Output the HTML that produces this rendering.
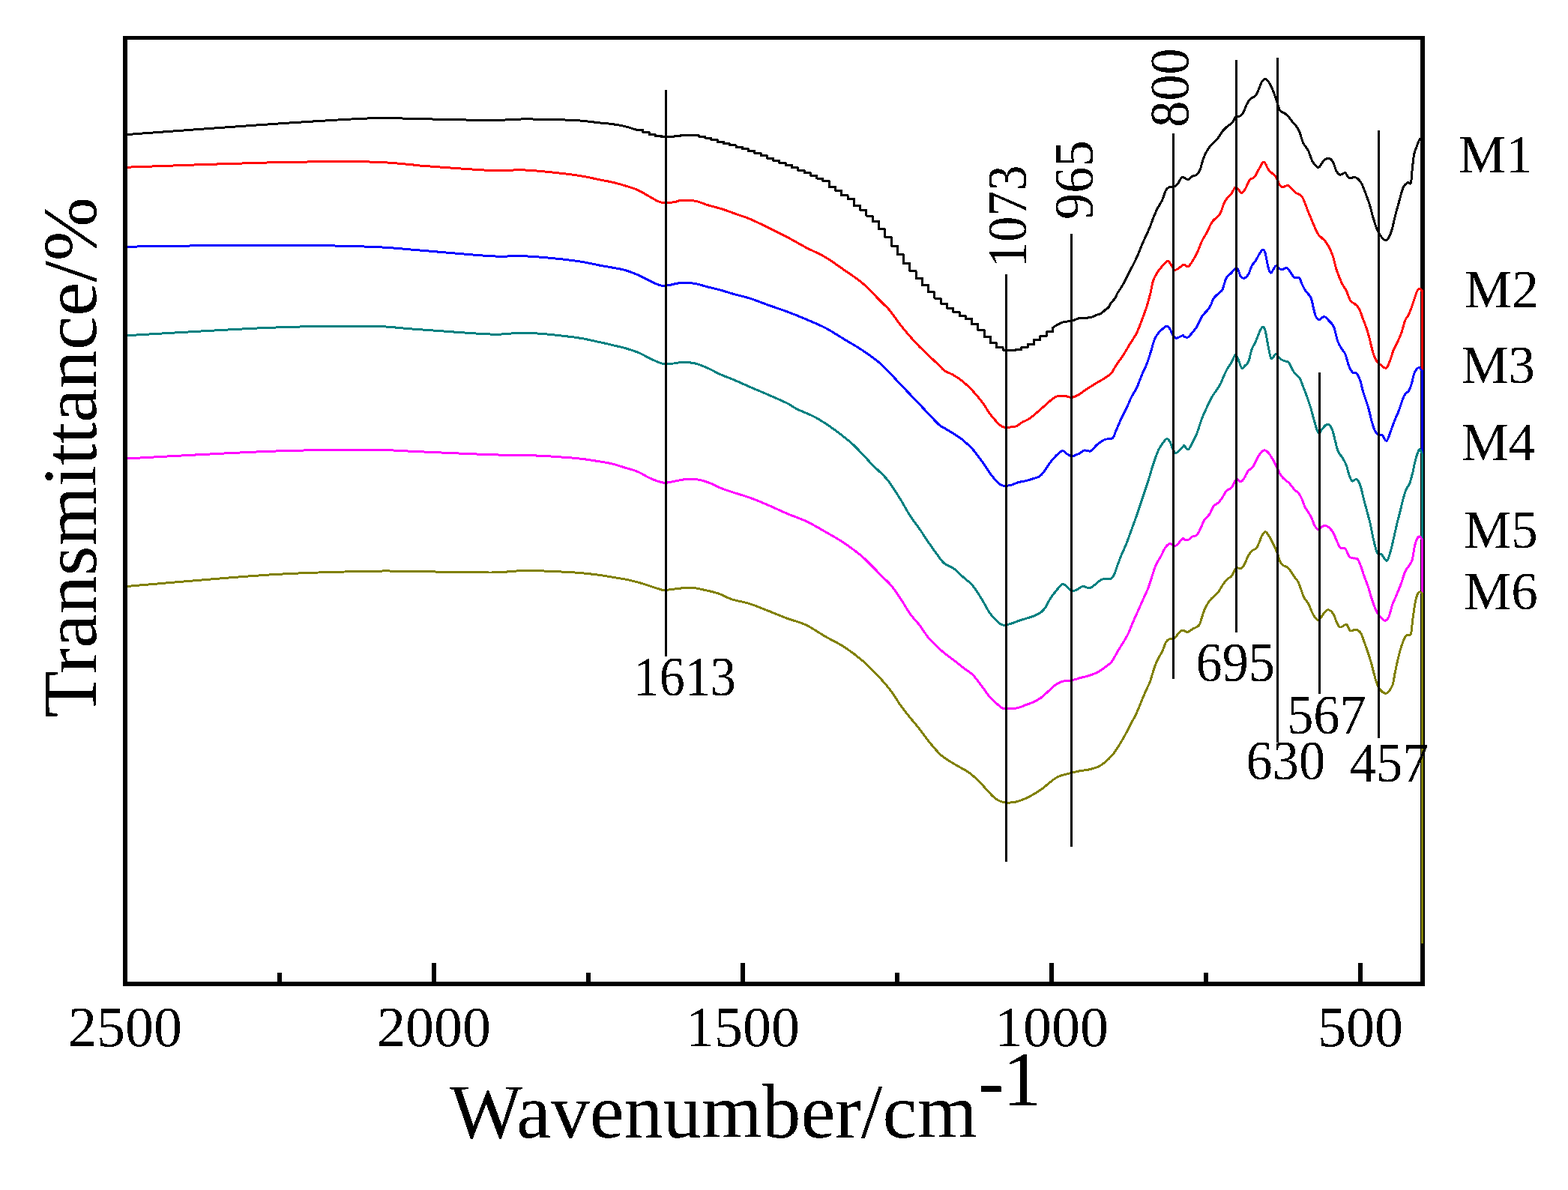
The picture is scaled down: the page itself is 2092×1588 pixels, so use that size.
<!DOCTYPE html>
<html><head><meta charset="utf-8"><title>FTIR spectra</title>
<style>html,body{margin:0;padding:0;background:#fff;}body{width:2092px;height:1588px;overflow:hidden;}svg{display:block;}</style>
</head><body>
<svg width="2092" height="1588" viewBox="0 0 2092 1588" font-family="'Liberation Serif','Times New Roman',serif" fill="#000">
<defs><filter id="bin" x="0" y="0" width="2092" height="1588" filterUnits="userSpaceOnUse" color-interpolation-filters="sRGB"><feComponentTransfer><feFuncA type="discrete" tableValues="0 1"/></feComponentTransfer></filter></defs>
<rect x="0" y="0" width="2092" height="1588" fill="#fff"/>
<g fill="#000" shape-rendering="crispEdges"><rect x="164" y="48" width="6" height="1268"/><rect x="164" y="48" width="1737" height="5"/><rect x="1895" y="48" width="6" height="1268"/><rect x="164" y="1310" width="1737" height="6"/></g>
<g fill="#000" shape-rendering="crispEdges"><rect x="576" y="1285" width="6" height="26"/><rect x="988" y="1285" width="6" height="26"/><rect x="1400" y="1285" width="6" height="26"/><rect x="1812" y="1285" width="6" height="26"/><rect x="370" y="1297.5" width="6" height="13"/><rect x="782" y="1297.5" width="6" height="13"/><rect x="1194" y="1297.5" width="6" height="13"/><rect x="1606" y="1297.5" width="6" height="13"/></g>
<path d="M170.0 179.5C201.6 177.2 305.8 169.4 359.6 165.8C413.4 162.2 459.2 159.1 492.6 157.9C526.0 156.7 532.8 158.3 560.0 158.7C587.2 159.1 632.3 160.5 655.8 160.5C679.3 160.5 682.7 158.9 701.2 158.9C719.7 158.9 750.2 159.7 766.7 160.5C783.2 161.3 791.6 163.1 800.0 163.9C808.4 164.8 811.3 164.8 817.0 165.6C822.7 166.4 828.6 167.4 834.0 168.7C839.4 170.0 846.9 172.6 849.5 173.4H857.8V176.4H866.1V179.6H874.3V181.4H882.6V182.8H890.9V182.7H899.2V181.9H907.5V180.9H915.7V180.7H924.0V180.9H932.3V182.1H940.6V184.0H948.9V186.4H957.1V189.3H965.4V191.8H973.7V193.9H982.0V196.2H990.3V198.8H998.5V201.4H1006.8V204.6H1015.1V207.9H1023.4V211.3H1031.7V214.4H1039.9V217.5H1048.2V220.6H1056.5V223.9H1064.8V227.2H1073.1V230.5H1081.3V234.2H1089.6V238.0H1097.9V241.7H1106.2V249.4H1114.5V254.1H1122.7V260.7H1131.0V265.3H1139.3V274.4H1147.6V280.2H1155.9V288.0H1164.1V295.6H1172.4V305.9H1180.7V316.2H1189.0V328.1H1197.3V339.7H1205.5V351.5H1213.8V361.8H1222.1V371.5H1230.4V380.5H1238.7V389.9H1246.9V398.1H1255.2V405.2H1263.5V411.2H1271.8V416.5H1280.1V421.6H1288.3V425.7H1296.6V432.4H1304.9V440.6H1313.2V449.4H1321.5V457.9H1329.7V463.8H1338.0V467.1H1346.3V467.4H1354.6V466.8H1362.9V463.5H1371.1V459.7H1379.4V453.7H1387.7V448.6H1396.0V442.9H1404.3V437.5C1405.3 436.8 1408.0 434.9 1410.5 433.6C1413.0 432.3 1415.7 430.6 1419.1 429.7C1422.5 428.8 1427.6 428.9 1431.1 428.0C1434.6 427.1 1436.8 425.1 1440.0 424.5C1443.2 423.9 1447.1 424.5 1450.2 424.2C1453.3 423.9 1456.7 423.1 1458.7 422.5C1460.7 421.9 1460.4 421.2 1462.1 420.5C1463.8 419.8 1466.9 419.6 1468.9 418.5C1470.9 417.4 1472.3 415.4 1474.0 414.0C1475.7 412.6 1477.7 411.7 1479.1 410.0C1480.5 408.3 1481.1 406.0 1482.5 404.0C1483.9 402.0 1486.2 400.2 1487.6 398.0C1489.0 395.8 1489.9 393.0 1491.0 391.0C1492.1 389.0 1493.0 388.2 1494.4 386.0C1495.8 383.8 1497.2 381.7 1499.5 377.5C1501.8 373.3 1505.2 366.4 1508.0 360.8C1510.8 355.2 1513.7 350.0 1516.5 343.8C1519.3 337.6 1522.2 329.9 1525.0 323.4C1527.8 316.9 1531.2 310.1 1533.5 304.7C1535.8 299.3 1536.9 295.4 1538.6 291.1C1540.3 286.9 1541.7 283.2 1543.7 279.2C1545.7 275.2 1548.5 271.6 1550.5 267.3C1552.5 263.1 1553.9 256.7 1555.6 253.7C1557.3 250.7 1559.0 250.1 1560.7 249.4C1562.4 248.7 1564.1 250.0 1565.8 249.4C1567.5 248.8 1569.2 248.0 1570.9 246.0C1572.6 244.0 1574.5 239.0 1576.0 237.5C1577.5 236.0 1578.5 236.8 1580.0 237.2C1581.5 237.6 1583.4 240.1 1585.1 239.8C1586.8 239.5 1588.2 236.6 1590.2 235.5C1592.2 234.4 1595.2 234.6 1597.0 233.0C1598.8 231.4 1599.9 229.3 1601.2 226.2C1602.5 223.1 1603.5 217.7 1604.6 214.3C1605.7 210.9 1606.4 208.9 1608.0 205.8C1609.6 202.7 1611.3 199.0 1614.0 195.6C1616.7 192.2 1621.4 188.8 1624.2 185.4C1627.0 182.0 1628.7 178.0 1631.0 175.2C1633.3 172.4 1635.5 170.4 1637.8 168.4C1640.1 166.4 1642.8 165.4 1644.6 163.3C1646.4 161.2 1647.1 157.0 1648.8 155.6C1650.5 154.2 1653.1 155.8 1654.8 154.8C1656.5 153.8 1657.6 152.2 1659.0 149.7C1660.4 147.1 1661.7 142.5 1663.3 139.5C1664.9 136.5 1666.4 133.8 1668.4 131.8C1670.4 129.8 1673.4 129.7 1675.2 127.6C1677.0 125.5 1678.0 122.2 1679.4 119.1C1680.8 116.0 1682.1 111.2 1683.7 108.9C1685.3 106.6 1687.1 105.1 1688.8 105.5C1690.5 105.9 1692.2 108.6 1693.9 111.4C1695.6 114.2 1697.5 118.7 1699.0 122.5C1700.5 126.3 1701.8 130.3 1703.2 134.4C1704.6 138.5 1705.7 144.3 1707.5 147.1C1709.3 149.9 1712.2 149.8 1714.3 151.4C1716.4 153.0 1718.3 154.9 1720.0 156.8C1721.7 158.7 1723.1 161.3 1724.5 163.0C1725.9 164.7 1727.0 164.9 1728.5 167.0C1730.0 169.1 1731.9 171.5 1733.6 175.5C1735.3 179.5 1736.7 186.6 1738.7 190.8C1740.7 195.1 1743.5 197.0 1745.5 201.0C1747.5 205.0 1748.9 211.2 1750.6 214.6C1752.3 218.0 1754.1 220.0 1755.7 221.4C1757.3 222.8 1758.3 224.2 1760.0 223.1C1761.7 222.0 1763.8 216.6 1765.9 214.6C1768.0 212.6 1770.6 210.9 1772.7 211.2C1774.8 211.5 1776.9 213.5 1778.6 216.3C1780.3 219.1 1781.3 225.4 1782.9 228.2C1784.5 231.0 1786.0 232.9 1788.0 233.3C1790.0 233.7 1792.8 230.0 1794.8 230.7C1796.8 231.4 1797.6 236.5 1799.9 237.5C1802.2 238.5 1805.9 235.8 1808.4 236.7C1811.0 237.5 1813.2 239.8 1815.2 242.6C1817.2 245.4 1818.3 248.7 1820.3 253.7C1822.3 258.7 1825.1 266.2 1827.1 272.4C1829.1 278.6 1830.2 284.9 1832.2 291.1C1834.2 297.3 1836.2 304.9 1839.0 309.8C1841.8 314.8 1846.4 320.8 1849.2 320.8C1852.0 320.8 1854.0 315.0 1856.0 309.8C1858.0 304.6 1859.4 295.9 1861.1 289.4C1862.8 282.9 1864.4 277.2 1866.2 270.7C1868.0 264.2 1870.1 254.8 1872.1 250.3C1874.1 245.8 1876.4 244.5 1878.1 243.5C1879.8 242.5 1881.3 246.9 1882.3 244.3C1883.3 241.8 1883.3 234.6 1884.0 228.2C1884.7 221.8 1885.6 211.5 1886.6 206.1C1887.6 200.7 1888.7 199.3 1890.0 195.9C1891.3 192.5 1893.0 187.3 1894.2 185.7C1895.5 184.1 1897.0 186.4 1897.5 186.5L1897.5 1258.5" fill="none" stroke="#000000" stroke-width="3" stroke-linejoin="round" shape-rendering="crispEdges"/>
<path d="M170.0 223.2C201.6 222.1 305.8 218.1 359.6 216.9C413.4 215.7 460.9 215.5 492.6 216.0C524.3 216.5 538.8 219.1 550.0 219.9C560.0 220.7 550.0 219.7 560.0 221.0C577.6 222.3 632.3 226.5 655.8 227.5C679.3 228.5 682.7 226.0 701.2 227.0C719.7 228.0 750.2 231.4 766.7 233.5C783.2 235.6 791.6 238.2 800.0 239.8C808.4 241.4 811.3 241.9 817.0 243.2C822.7 244.5 828.3 246.1 834.0 247.8C839.7 249.6 845.3 251.1 851.0 253.7C856.7 256.2 862.9 260.4 868.0 263.1C873.1 265.8 876.5 268.8 881.6 269.9C886.7 271.0 894.1 270.3 898.6 269.9C903.1 269.5 904.0 267.6 908.8 267.3C913.6 267.0 921.6 267.1 927.6 268.2C933.6 269.3 938.9 272.1 944.6 273.8C950.3 275.5 955.9 276.6 961.6 278.4C967.3 280.2 972.2 282.1 978.6 284.4C985.0 286.7 992.2 288.8 1000.0 292.0C1007.8 295.2 1016.8 299.8 1025.2 303.9C1033.6 308.0 1042.0 312.1 1050.4 316.5C1058.8 320.9 1067.2 326.0 1075.6 330.4C1084.0 334.8 1092.4 338.1 1100.8 343.0C1109.2 347.9 1117.6 354.2 1126.0 360.1C1134.4 366.0 1142.7 371.0 1151.1 378.2C1159.5 385.4 1170.4 397.5 1176.3 403.4C1182.2 409.3 1182.2 408.4 1186.4 413.5C1190.6 418.6 1196.9 427.8 1201.5 433.7C1206.1 439.6 1209.9 444.0 1214.1 448.8C1218.3 453.6 1220.4 456.3 1226.7 462.6C1233.0 468.9 1246.4 481.3 1251.9 486.6C1257.5 491.9 1256.5 492.1 1260.0 494.5C1263.5 496.9 1268.4 498.3 1272.6 500.8C1276.8 503.3 1281.0 506.1 1285.2 509.6C1289.4 513.1 1293.6 517.1 1297.8 521.6C1302.0 526.1 1306.6 531.7 1310.4 536.7C1314.2 541.7 1317.2 547.3 1320.5 551.8C1323.8 556.3 1327.6 560.8 1330.5 563.8C1333.4 566.8 1335.1 568.7 1338.1 569.7C1341.0 570.7 1345.3 570.1 1348.2 570.0C1351.1 569.9 1353.2 569.8 1355.7 568.8C1358.2 567.8 1360.3 565.5 1363.3 563.8C1366.2 562.1 1370.1 560.9 1373.4 558.7C1376.8 556.5 1380.1 553.3 1383.4 550.5C1386.8 547.7 1390.1 544.6 1393.5 541.7C1396.9 538.8 1400.6 535.1 1403.6 532.9C1406.5 530.7 1408.3 529.2 1411.2 528.5C1414.1 527.8 1418.1 528.2 1421.2 528.5C1424.3 528.8 1426.9 530.8 1430.0 530.4C1433.1 530.0 1436.9 527.9 1440.0 526.2C1443.1 524.5 1445.1 522.5 1448.5 520.2C1451.9 517.9 1456.7 514.9 1460.4 512.6C1464.1 510.3 1466.9 509.0 1470.6 506.6C1474.3 504.2 1479.4 501.4 1482.5 498.1C1485.6 494.9 1486.8 490.9 1489.3 487.1C1491.8 483.3 1494.7 480.0 1497.8 475.2C1500.9 470.4 1504.9 463.3 1508.0 458.2C1511.1 453.1 1514.0 449.7 1516.5 444.6C1519.0 439.5 1521.0 433.6 1523.3 427.6C1525.6 421.6 1528.1 414.8 1530.1 408.5C1532.1 402.2 1533.8 395.7 1535.2 390.0C1536.6 384.3 1537.2 378.7 1538.6 374.4C1540.0 370.1 1542.0 367.0 1543.7 364.2C1545.4 361.4 1547.1 359.5 1548.8 357.4C1550.5 355.3 1552.4 353.0 1553.9 351.4C1555.5 349.8 1556.7 347.7 1558.1 348.0C1559.5 348.3 1561.0 351.1 1562.4 353.1C1563.8 355.1 1565.2 358.9 1566.6 359.9C1568.0 360.9 1569.1 360.1 1570.9 359.1C1572.8 358.1 1576.2 355.0 1577.7 354.0C1579.2 353.0 1578.8 352.8 1580.0 353.1C1581.2 353.4 1583.4 356.3 1585.1 355.7C1586.8 355.1 1588.2 352.7 1590.2 349.7C1592.2 346.7 1594.7 342.2 1597.0 337.5C1599.3 332.8 1601.5 326.1 1603.8 321.4C1606.1 316.7 1608.3 313.8 1610.6 309.5C1612.9 305.2 1614.6 299.9 1617.4 295.9C1620.2 291.9 1625.0 289.7 1627.6 285.7C1630.1 281.7 1631.0 275.8 1632.7 272.1C1634.4 268.4 1636.1 265.9 1637.8 263.6C1639.5 261.3 1641.2 260.8 1642.9 258.5C1644.6 256.2 1646.6 251.1 1648.0 250.0C1649.4 248.9 1650.0 250.4 1651.4 251.7C1652.8 253.0 1654.8 257.6 1656.5 257.6C1658.2 257.6 1659.8 254.7 1661.6 251.7C1663.4 248.7 1665.5 242.4 1667.5 239.8C1669.5 237.2 1671.4 239.0 1673.5 236.4C1675.6 233.8 1678.2 227.9 1680.3 224.5C1682.4 221.1 1684.2 215.7 1686.2 216.0C1688.2 216.3 1690.4 223.6 1692.2 226.2C1694.0 228.8 1695.6 229.6 1697.3 231.3C1699.0 233.0 1700.4 233.4 1702.4 236.4C1704.4 239.4 1706.7 247.3 1709.2 249.1C1711.8 250.9 1715.9 247.5 1717.7 247.4C1719.5 247.3 1718.2 247.0 1720.0 248.6C1721.8 250.2 1725.7 254.8 1728.5 257.1C1731.3 259.4 1734.2 257.9 1737.0 262.2C1739.8 266.4 1742.7 275.8 1745.5 282.6C1748.3 289.4 1751.7 297.9 1754.0 303.0C1756.3 308.1 1756.5 309.8 1759.1 313.2C1761.6 316.6 1766.2 318.9 1769.3 323.4C1772.4 327.9 1775.5 334.4 1777.8 340.4C1780.1 346.3 1781.2 353.7 1782.9 359.1C1784.6 364.5 1786.6 369.2 1788.0 372.7C1789.4 376.2 1790.0 377.4 1791.4 380.0C1792.8 382.6 1794.8 385.0 1796.5 388.5C1798.2 392.0 1799.6 398.0 1801.6 401.0C1803.6 404.0 1806.4 404.4 1808.4 406.3C1810.4 408.2 1811.8 409.0 1813.5 412.3C1815.2 415.6 1816.9 421.4 1818.6 425.9C1820.3 430.4 1822.3 435.2 1823.7 439.5C1825.1 443.8 1825.7 446.0 1827.1 451.4C1828.5 456.8 1830.5 466.6 1832.2 471.8C1833.9 477.0 1835.6 480.2 1837.3 482.8C1839.0 485.4 1840.4 485.7 1842.4 487.1C1844.4 488.5 1847.2 492.2 1849.2 491.3C1851.2 490.4 1852.6 486.1 1854.3 482.0C1856.0 477.9 1857.7 470.9 1859.4 466.7C1861.1 462.4 1862.8 460.2 1864.5 456.5C1866.2 452.8 1867.9 449.4 1869.6 444.6C1871.3 439.8 1873.0 431.9 1874.7 427.6C1876.4 423.4 1878.1 422.8 1879.8 419.1C1881.5 415.4 1883.2 410.3 1884.9 405.5C1886.6 400.7 1888.6 393.6 1890.0 390.2C1891.4 386.8 1892.2 385.4 1893.4 385.1C1894.7 384.8 1896.8 387.9 1897.5 388.5L1897.5 1258.5" fill="none" stroke="#ff0000" stroke-width="3" stroke-linejoin="round" shape-rendering="crispEdges"/>
<path d="M170.0 329.2C201.6 328.8 305.8 327.0 359.6 327.0C413.4 327.0 460.9 328.2 492.6 329.2C524.3 330.2 538.8 332.4 550.0 333.2C560.0 334.0 550.0 332.6 560.0 334.0C577.6 335.4 632.3 340.5 655.8 341.8C679.3 343.1 682.7 340.8 701.2 341.8C719.7 342.8 750.2 345.8 766.7 347.9C783.2 349.9 791.6 352.6 800.0 354.1C808.4 355.6 811.3 356.0 817.0 357.1C822.7 358.2 828.3 358.9 834.0 360.5C839.7 362.1 845.3 364.3 851.0 366.8C856.7 369.3 862.9 372.9 868.0 375.3C873.1 377.7 877.4 380.1 881.6 381.0C885.9 381.9 889.5 380.9 893.5 380.4C897.5 379.9 900.0 378.3 905.4 377.9C910.8 377.5 919.4 377.3 925.9 378.2C932.4 379.1 938.6 381.5 944.6 383.0C950.6 384.5 955.9 385.6 961.6 387.2C967.3 388.8 972.2 390.5 978.6 392.3C985.0 394.1 992.2 395.5 1000.0 398.0C1007.8 400.5 1016.8 404.2 1025.2 407.2C1033.6 410.2 1042.0 412.9 1050.4 416.0C1058.8 419.1 1067.2 422.5 1075.6 426.1C1084.0 429.7 1092.4 433.0 1100.8 437.4C1109.2 441.8 1117.6 447.4 1126.0 452.5C1134.4 457.6 1142.7 462.0 1151.1 467.7C1159.5 473.4 1167.9 479.1 1176.3 486.6C1184.7 494.2 1193.1 504.2 1201.5 513.0C1209.9 521.8 1218.3 530.6 1226.7 539.4C1235.1 548.2 1246.4 560.6 1251.9 565.9C1257.5 571.2 1256.5 569.1 1260.0 571.3C1263.5 573.5 1268.4 576.2 1272.6 578.9C1276.8 581.6 1281.0 584.2 1285.2 587.7C1289.4 591.2 1293.6 594.9 1297.8 599.6C1302.0 604.3 1306.6 610.8 1310.4 616.0C1314.2 621.2 1317.2 626.6 1320.5 631.1C1323.8 635.6 1327.6 640.3 1330.5 643.1C1333.4 645.9 1335.1 647.4 1338.1 648.1C1341.0 648.8 1344.8 648.2 1348.2 647.5C1351.6 646.8 1354.9 644.7 1358.2 643.7C1361.5 642.8 1364.9 642.6 1368.3 641.8C1371.7 641.0 1375.2 639.8 1378.4 638.7C1381.6 637.7 1384.7 637.2 1387.2 635.5C1389.7 633.8 1391.2 631.6 1393.5 628.6C1395.8 625.6 1398.6 620.6 1401.1 617.3C1403.6 613.9 1405.9 611.1 1408.6 608.5C1411.3 605.9 1415.0 601.9 1417.5 601.5C1420.0 601.1 1421.7 604.6 1423.8 605.9C1425.9 607.2 1427.9 609.0 1430.0 609.1C1432.1 609.2 1434.6 607.2 1436.3 606.6C1438.0 606.0 1438.2 606.1 1440.0 605.2C1441.8 604.3 1444.2 601.6 1446.8 601.0C1449.3 600.4 1452.5 603.1 1455.3 601.8C1458.1 600.5 1460.7 595.8 1463.8 593.3C1466.9 590.8 1470.6 587.9 1474.0 586.5C1477.4 585.1 1481.7 586.9 1484.2 584.8C1486.8 582.7 1487.3 578.2 1489.3 573.8C1491.3 569.4 1493.8 563.3 1496.1 558.5C1498.4 553.7 1500.6 549.7 1502.9 544.9C1505.2 540.1 1507.4 534.1 1509.7 529.6C1512.0 525.1 1514.2 522.5 1516.5 517.7C1518.8 512.9 1521.0 506.1 1523.3 500.7C1525.6 495.3 1528.1 490.5 1530.1 485.4C1532.1 480.3 1533.5 475.5 1535.2 470.1C1536.9 464.7 1538.6 457.4 1540.3 453.1C1542.0 448.9 1543.7 446.9 1545.4 444.6C1547.1 442.3 1548.7 441.1 1550.5 439.5C1552.3 437.9 1554.7 435.3 1556.4 435.2C1558.1 435.1 1559.3 436.6 1560.7 438.6C1562.1 440.6 1563.5 445.0 1564.9 447.1C1566.3 449.2 1567.1 451.3 1569.2 451.4C1571.3 451.5 1575.9 448.1 1577.7 447.7C1579.5 447.3 1578.8 448.8 1580.0 449.2C1581.2 449.6 1583.1 451.1 1585.1 450.0C1587.1 448.9 1589.9 444.8 1591.9 442.4C1593.9 440.0 1595.0 439.0 1597.0 435.6C1599.0 432.2 1601.5 425.6 1603.8 422.0C1606.1 418.4 1608.6 416.9 1610.6 414.3C1612.6 411.8 1614.3 409.4 1615.7 406.7C1617.1 404.0 1617.4 400.8 1619.1 398.2C1620.8 395.6 1623.9 393.4 1625.9 391.4C1627.9 389.4 1629.3 389.7 1631.0 386.3C1632.7 382.9 1634.1 374.7 1636.1 371.0C1638.1 367.3 1640.9 366.3 1642.9 364.2C1644.9 362.1 1646.6 359.0 1648.0 358.2C1649.4 357.4 1650.1 357.2 1651.4 359.1C1652.7 361.0 1654.0 367.3 1655.6 369.3C1657.1 371.3 1659.0 371.6 1660.7 371.0C1662.4 370.4 1664.2 368.6 1665.8 365.9C1667.4 363.2 1668.5 357.8 1670.1 354.8C1671.7 351.8 1673.5 350.7 1675.2 348.0C1676.9 345.3 1678.8 341.1 1680.3 338.7C1681.8 336.3 1683.2 333.9 1684.5 333.6C1685.8 333.3 1686.6 333.0 1687.9 337.0C1689.2 341.0 1690.9 352.9 1692.2 357.4C1693.5 361.9 1694.5 363.9 1695.6 364.2C1696.7 364.5 1697.9 360.7 1699.0 359.1C1700.1 357.5 1701.1 355.0 1702.4 354.8C1703.7 354.6 1705.2 357.4 1706.6 358.2C1708.0 359.0 1709.3 360.0 1710.9 359.9C1712.5 359.8 1714.5 357.2 1716.0 357.4C1717.5 357.5 1718.2 358.7 1720.0 360.8C1721.8 362.9 1724.5 368.4 1726.8 370.1C1729.1 371.8 1731.9 369.5 1733.6 371.0C1735.3 372.5 1735.6 376.1 1737.0 379.0C1738.4 381.9 1740.1 385.5 1742.1 388.5C1744.1 391.5 1747.2 393.3 1748.9 397.0C1750.6 400.7 1751.2 406.4 1752.3 410.6C1753.4 414.9 1754.4 419.8 1755.7 422.5C1757.0 425.2 1758.1 426.7 1759.9 426.7C1761.7 426.7 1764.6 422.4 1766.7 422.5C1768.8 422.6 1770.6 425.3 1772.7 427.6C1774.8 429.9 1777.5 431.6 1779.5 436.1C1781.5 440.6 1782.9 450.0 1784.6 454.8C1786.3 459.6 1788.0 462.0 1789.7 465.0C1791.4 468.0 1793.1 468.6 1794.8 472.6C1796.5 476.6 1798.2 484.7 1799.9 488.8C1801.6 492.9 1803.3 495.8 1805.0 497.3C1806.7 498.9 1808.4 496.1 1810.1 498.1C1811.8 500.1 1813.8 505.1 1815.2 509.2C1816.6 513.3 1816.9 517.1 1818.6 522.8C1820.3 528.5 1823.6 537.0 1825.4 543.2C1827.2 549.4 1828.2 555.1 1829.6 560.2C1831.0 565.3 1832.3 570.4 1833.9 573.8C1835.5 577.2 1837.3 579.5 1839.0 580.6C1840.7 581.7 1842.3 579.3 1844.1 580.6C1845.9 581.9 1848.0 589.3 1850.0 588.2C1852.0 587.1 1854.2 578.5 1856.0 573.8C1857.8 569.1 1859.4 564.5 1861.1 560.2C1862.8 556.0 1864.5 552.8 1866.2 548.3C1867.9 543.8 1869.9 536.7 1871.3 533.0C1872.7 529.3 1873.3 528.2 1874.7 526.2C1876.1 524.2 1878.4 523.4 1879.8 521.1C1881.2 518.8 1882.1 516.3 1883.2 512.6C1884.3 508.9 1885.5 502.3 1886.6 499.0C1887.7 495.7 1888.9 494.4 1890.0 493.0C1891.1 491.6 1892.2 490.1 1893.4 490.5C1894.7 490.9 1896.8 494.8 1897.5 495.6L1897.5 1258.5" fill="none" stroke="#0000ff" stroke-width="3" stroke-linejoin="round" shape-rendering="crispEdges"/>
<path d="M170.0 447.7C201.6 446.0 305.8 439.4 359.6 437.3C413.4 435.2 460.9 434.9 492.6 435.2C524.3 435.5 522.8 437.2 550.0 439.0C577.2 440.8 630.6 445.2 655.8 446.1C681.0 447.0 682.7 443.4 701.2 444.1C719.7 444.8 750.2 448.0 766.7 450.1C783.2 452.2 791.6 454.9 800.0 456.6C808.4 458.3 811.3 459.2 817.0 460.5C822.7 461.8 828.3 463.0 834.0 464.6C839.7 466.2 845.3 467.9 851.0 470.2C856.7 472.5 862.6 476.2 868.0 478.7C873.4 481.2 878.2 483.9 883.3 485.0C888.4 486.1 894.1 485.3 898.6 485.0C903.1 484.7 905.7 483.4 910.5 483.4C915.3 483.4 921.9 483.7 927.6 485.0C933.3 486.3 938.9 488.9 944.6 491.4C950.3 493.9 955.9 497.3 961.6 499.9C967.3 502.4 972.2 504.0 978.6 506.7C985.0 509.4 992.2 512.7 1000.0 516.1C1007.8 519.5 1016.8 523.2 1025.2 526.9C1033.6 530.6 1044.1 535.1 1050.4 538.2C1056.7 541.3 1056.7 542.6 1063.0 545.7C1069.3 548.9 1079.8 552.5 1088.2 557.1C1096.6 561.7 1105.0 567.4 1113.4 573.5C1121.8 579.6 1130.1 585.9 1138.5 593.6C1146.9 601.4 1156.1 612.2 1163.7 620.0C1171.3 627.8 1177.6 632.4 1183.9 640.2C1190.2 648.0 1196.5 658.6 1201.5 666.6C1206.5 674.6 1209.9 681.5 1214.1 688.0C1218.3 694.5 1222.5 699.5 1226.7 705.6C1230.9 711.7 1235.1 718.4 1239.3 724.5C1243.5 730.6 1248.5 737.6 1251.9 742.2C1255.4 746.8 1256.5 749.1 1260.0 751.9C1263.5 754.7 1268.4 755.8 1272.6 758.8C1276.8 761.8 1281.0 766.4 1285.2 770.2C1289.4 774.0 1293.6 776.5 1297.8 781.5C1302.0 786.5 1306.6 794.3 1310.4 800.4C1314.2 806.5 1317.2 813.2 1320.5 818.0C1323.8 822.8 1327.6 826.6 1330.5 829.3C1333.4 832.0 1335.1 833.6 1338.1 834.1C1341.0 834.6 1344.8 833.4 1348.2 832.5C1351.6 831.6 1354.9 829.9 1358.2 828.7C1361.5 827.6 1364.9 826.7 1368.3 825.6C1371.7 824.5 1375.0 823.8 1378.4 822.4C1381.8 821.0 1385.8 819.4 1388.5 817.4C1391.2 815.4 1392.7 813.5 1394.8 810.5C1396.9 807.5 1398.8 802.7 1401.1 799.1C1403.4 795.5 1405.9 792.2 1408.6 789.0C1411.3 785.8 1415.0 780.5 1417.5 779.6C1420.0 778.7 1421.7 781.9 1423.8 783.4C1425.9 784.9 1427.9 787.8 1430.0 788.4C1432.1 789.0 1434.6 787.8 1436.3 787.2C1438.0 786.6 1438.5 785.7 1440.0 784.9C1441.5 784.1 1442.8 782.3 1445.1 782.3C1447.4 782.3 1451.0 785.2 1453.6 784.9C1456.1 784.6 1457.9 782.5 1460.4 780.6C1463.0 778.8 1466.4 775.2 1468.9 773.8C1471.5 772.4 1473.4 772.4 1475.7 772.1C1478.0 771.8 1480.7 773.1 1482.5 772.1C1484.3 771.1 1485.3 769.2 1486.7 766.2C1488.1 763.2 1489.4 758.5 1491.0 754.3C1492.6 750.0 1494.1 745.5 1496.1 740.7C1498.1 735.9 1500.6 731.1 1502.9 725.4C1505.2 719.7 1507.4 712.9 1509.7 706.7C1512.0 700.5 1514.5 693.7 1516.5 688.0C1518.5 682.3 1519.9 677.8 1521.6 672.7C1523.3 667.6 1525.0 662.5 1526.7 657.4C1528.4 652.3 1530.1 647.5 1531.8 642.1C1533.5 636.7 1535.5 629.7 1536.9 625.1C1538.3 620.5 1538.9 618.6 1540.3 614.6C1541.7 610.6 1543.7 604.7 1545.4 601.0C1547.1 597.3 1548.7 595.0 1550.5 592.5C1552.3 590.0 1554.7 586.3 1556.4 585.7C1558.1 585.1 1559.3 586.8 1560.7 589.1C1562.1 591.4 1563.5 596.8 1564.9 599.3C1566.3 601.8 1566.9 605.0 1569.2 604.4C1571.5 603.8 1576.7 597.5 1578.5 595.9C1580.0 594.3 1578.9 594.1 1580.0 594.8C1581.1 595.5 1583.4 600.4 1585.1 600.0C1586.8 599.6 1588.2 596.0 1590.2 592.3C1592.2 588.6 1594.7 583.7 1597.0 578.0C1599.3 572.3 1601.5 563.9 1603.8 558.0C1606.1 552.1 1608.3 547.5 1610.6 542.7C1612.9 537.9 1615.4 532.7 1617.4 529.1C1619.4 525.5 1620.7 524.2 1622.5 521.4C1624.3 518.6 1626.7 515.4 1628.4 512.1C1630.1 508.9 1631.1 505.3 1632.7 501.9C1634.3 498.5 1636.1 494.7 1637.8 491.7C1639.5 488.7 1641.2 487.0 1642.9 484.0C1644.6 481.0 1646.6 474.8 1648.0 473.8C1649.4 472.8 1650.0 475.3 1651.4 478.1C1652.8 480.9 1655.0 489.1 1656.5 490.8C1658.0 492.5 1659.2 489.7 1660.7 488.3C1662.2 486.9 1664.2 486.0 1665.8 482.3C1667.4 478.6 1668.5 470.6 1670.1 466.2C1671.7 461.8 1673.5 459.8 1675.2 456.0C1676.9 452.2 1678.8 446.5 1680.3 443.2C1681.8 439.9 1683.2 436.8 1684.5 436.4C1685.8 436.0 1686.6 436.3 1687.9 440.7C1689.2 445.1 1690.9 456.6 1692.2 462.8C1693.5 469.0 1694.5 475.8 1695.6 478.1C1696.7 480.4 1697.9 477.4 1699.0 476.4C1700.1 475.4 1701.1 472.0 1702.4 472.1C1703.7 472.2 1705.2 475.8 1706.6 477.2C1708.0 478.6 1709.3 479.8 1710.9 480.6C1712.5 481.5 1714.5 481.7 1716.0 482.3C1717.5 482.9 1718.2 482.0 1720.0 484.5C1721.8 487.0 1724.5 494.0 1726.8 497.3C1729.1 500.6 1731.6 501.0 1733.6 504.1C1735.6 507.2 1737.0 511.8 1738.7 516.0C1740.4 520.2 1742.1 524.8 1743.8 529.6C1745.5 534.4 1747.2 539.2 1748.9 544.9C1750.6 550.6 1752.3 558.1 1754.0 563.6C1755.7 569.1 1757.4 576.6 1759.1 578.0C1760.8 579.4 1762.2 574.1 1764.2 572.1C1766.2 570.1 1768.9 566.1 1771.0 566.1C1773.1 566.1 1775.2 568.6 1776.9 572.1C1778.6 575.6 1779.8 582.3 1781.2 587.4C1782.6 592.5 1783.7 598.7 1785.4 602.7C1787.1 606.7 1789.6 608.1 1791.4 611.2C1793.2 614.3 1795.1 617.7 1796.5 621.4C1797.9 625.1 1798.6 630.1 1799.9 633.6C1801.2 637.1 1802.4 641.1 1804.1 642.1C1805.8 643.1 1808.2 638.4 1810.1 639.5C1811.9 640.6 1813.5 643.9 1815.2 648.9C1816.9 653.9 1818.6 662.8 1820.3 669.3C1822.0 675.8 1824.0 682.6 1825.4 688.0C1826.8 693.4 1827.7 696.5 1828.8 701.6C1829.9 706.7 1830.8 712.7 1832.2 718.6C1833.6 724.5 1835.5 733.8 1837.3 737.3C1839.1 740.8 1841.1 738.0 1843.2 739.8C1845.3 741.6 1848.2 748.4 1850.0 748.3C1851.8 748.2 1852.7 744.0 1854.3 739.0C1855.9 734.0 1858.0 724.6 1859.4 718.6C1860.8 712.6 1861.4 709.2 1862.8 703.3C1864.2 697.3 1866.2 689.7 1867.9 682.9C1869.6 676.1 1871.6 667.6 1873.0 662.5C1874.4 657.4 1875.1 655.1 1876.4 652.3C1877.7 649.5 1879.2 649.2 1880.6 645.5C1882.0 641.8 1883.6 635.4 1884.9 630.2C1886.2 625.1 1886.9 619.6 1888.3 614.6C1889.7 609.6 1891.9 601.5 1893.4 600.1C1894.9 598.7 1896.8 605.1 1897.5 606.1L1897.5 1258.5" fill="none" stroke="#008080" stroke-width="3" stroke-linejoin="round" shape-rendering="crispEdges"/>
<path d="M170.0 611.9C201.6 610.3 305.8 604.2 359.6 602.3C413.4 600.3 460.9 600.2 492.6 600.2C524.3 600.2 522.8 601.2 550.0 602.3C577.2 603.4 630.6 606.0 655.8 606.8C681.0 607.6 682.7 606.5 701.2 607.3C719.7 608.0 750.2 609.9 766.7 611.3C783.2 612.7 791.6 614.6 800.0 615.9C808.4 617.2 811.3 617.6 817.0 619.0C822.7 620.4 828.3 622.4 834.0 624.1C839.7 625.9 845.3 627.1 851.0 629.5C856.7 631.9 862.3 636.1 868.0 638.5C873.7 640.9 880.5 643.3 885.0 644.1C889.5 644.9 890.1 643.9 895.2 643.1C900.3 642.3 909.9 640.0 915.6 639.4C921.3 638.8 924.5 639.0 929.3 639.7C934.1 640.4 939.2 641.7 944.6 643.6C950.0 645.5 955.9 649.0 961.6 651.3C967.3 653.6 972.2 655.1 978.6 657.2C985.0 659.3 992.2 661.2 1000.0 664.0C1007.8 666.8 1016.8 670.6 1025.2 674.2C1033.6 677.8 1042.0 681.9 1050.4 685.5C1058.8 689.1 1067.2 691.6 1075.6 695.6C1084.0 699.6 1092.4 704.6 1100.8 709.4C1109.2 714.2 1117.6 718.8 1126.0 724.5C1134.4 730.2 1142.7 736.0 1151.1 743.4C1159.5 750.8 1170.0 762.3 1176.3 768.6C1182.6 774.9 1184.7 776.2 1188.9 781.2C1193.1 786.2 1197.3 792.5 1201.5 798.8C1205.7 805.1 1209.9 813.1 1214.1 819.0C1218.3 824.9 1222.5 828.6 1226.7 834.1C1230.9 839.6 1235.1 846.7 1239.3 851.7C1243.5 856.7 1248.5 861.0 1251.9 864.3C1255.4 867.6 1256.5 868.7 1260.0 871.5C1263.5 874.3 1268.4 877.7 1272.6 881.0C1276.8 884.3 1281.0 887.9 1285.2 891.1C1289.4 894.4 1293.6 896.3 1297.8 900.5C1302.0 904.7 1306.6 911.3 1310.4 916.2C1314.2 921.1 1317.2 926.2 1320.5 930.1C1323.8 934.0 1327.6 937.0 1330.5 939.5C1333.4 942.0 1335.1 944.2 1338.1 945.2C1341.0 946.2 1344.8 945.9 1348.2 945.8C1351.6 945.7 1354.9 945.4 1358.2 944.6C1361.5 943.8 1364.9 942.1 1368.3 940.8C1371.7 939.5 1375.0 938.6 1378.4 937.0C1381.8 935.4 1385.1 933.8 1388.5 931.4C1391.9 929.0 1395.2 925.5 1398.6 922.5C1401.9 919.5 1405.4 915.9 1408.6 913.7C1411.8 911.5 1414.3 910.2 1417.5 909.3C1420.7 908.4 1424.4 908.6 1427.5 908.1C1430.6 907.6 1434.2 906.7 1436.3 906.2C1438.4 905.7 1437.3 905.6 1440.0 904.9C1442.7 904.1 1448.4 903.1 1452.6 901.7C1456.8 900.3 1461.4 898.7 1465.2 896.7C1469.0 894.7 1472.4 891.9 1475.3 889.7C1478.2 887.5 1480.7 885.9 1482.8 883.5C1484.9 881.1 1486.2 878.1 1487.9 875.3C1489.6 872.4 1491.0 869.5 1492.9 866.4C1494.8 863.2 1497.1 860.0 1499.2 856.4C1501.3 852.8 1503.5 849.3 1505.5 845.0C1507.5 840.7 1509.3 835.7 1511.4 830.8C1513.5 825.9 1515.9 820.6 1518.2 815.5C1520.5 810.4 1522.7 805.3 1525.0 800.2C1527.3 795.1 1529.8 790.0 1531.8 784.9C1533.8 779.8 1535.2 774.7 1536.9 769.6C1538.6 764.5 1540.0 758.8 1542.0 754.3C1544.0 749.8 1546.8 746.1 1548.8 742.4C1550.8 738.7 1552.2 734.9 1553.9 732.2C1555.6 729.5 1557.5 727.2 1559.0 726.2C1560.5 725.2 1561.5 725.9 1563.2 726.2C1564.9 726.5 1566.8 729.2 1569.2 727.9C1571.6 726.6 1575.9 720.0 1577.7 718.6C1579.5 717.2 1578.8 719.5 1580.0 719.8C1581.2 720.1 1583.4 721.2 1585.1 720.6C1586.8 720.0 1588.2 717.5 1590.2 716.4C1592.2 715.3 1595.0 715.8 1597.0 713.8C1599.0 711.8 1600.4 707.9 1602.1 704.5C1603.8 701.1 1605.2 696.5 1607.2 693.4C1609.2 690.3 1612.0 688.8 1614.0 685.8C1616.0 682.8 1617.1 678.1 1619.1 675.6C1621.1 673.1 1623.9 672.5 1625.9 670.5C1627.9 668.5 1629.3 666.2 1631.0 663.7C1632.7 661.2 1634.1 657.3 1636.1 655.2C1638.1 653.1 1640.9 653.2 1642.9 650.9C1644.9 648.6 1646.6 643.4 1648.0 641.6C1649.4 639.8 1650.1 639.7 1651.4 639.9C1652.7 640.1 1654.2 643.3 1655.6 643.0C1657.0 642.7 1658.3 640.6 1659.9 638.2C1661.5 635.8 1663.0 631.3 1665.0 628.8C1667.0 626.2 1669.8 625.6 1671.8 622.9C1673.8 620.2 1675.2 615.8 1676.9 612.7C1678.6 609.6 1680.3 606.2 1682.0 604.2C1683.7 602.2 1685.4 600.8 1687.1 600.8C1688.8 600.8 1690.2 601.9 1692.2 604.2C1694.2 606.5 1697.0 611.0 1699.0 614.4C1701.0 617.8 1702.4 621.2 1704.1 624.6C1705.8 628.0 1707.2 632.0 1709.2 634.8C1711.2 637.6 1714.2 640.0 1716.0 641.6C1717.8 643.2 1718.2 642.7 1720.0 644.6C1721.8 646.5 1724.7 650.8 1726.8 653.1C1728.9 655.4 1731.0 656.1 1732.7 658.2C1734.4 660.3 1735.6 662.8 1737.0 665.9C1738.4 669.0 1739.5 673.5 1741.2 676.9C1742.9 680.3 1745.5 683.3 1747.2 686.3C1748.9 689.3 1750.3 692.2 1751.4 694.8C1752.5 697.3 1752.7 699.6 1754.0 701.6C1755.3 703.6 1757.5 706.4 1759.1 706.7C1760.6 707.0 1761.6 704.1 1763.3 703.3C1765.0 702.4 1766.9 700.6 1769.3 701.6C1771.7 702.6 1775.5 706.1 1777.8 709.2C1780.1 712.3 1781.2 716.8 1782.9 720.3C1784.6 723.8 1786.0 728.5 1788.0 730.5C1790.0 732.5 1792.8 730.2 1794.8 732.2C1796.8 734.2 1798.2 740.3 1799.9 742.4C1801.6 744.5 1803.2 744.3 1805.0 744.9C1806.8 745.5 1809.2 744.2 1810.9 745.8C1812.6 747.4 1813.6 750.3 1815.2 754.3C1816.8 758.3 1818.6 764.8 1820.3 769.6C1822.0 774.4 1823.7 778.1 1825.4 783.2C1827.1 788.3 1828.8 795.1 1830.5 800.2C1832.2 805.3 1833.9 810.1 1835.6 813.8C1837.3 817.5 1838.7 819.9 1840.7 822.3C1842.7 824.7 1845.5 827.9 1847.5 828.2C1849.5 828.5 1850.9 827.5 1852.6 824.0C1854.3 820.5 1856.0 811.8 1857.7 807.0C1859.4 802.2 1860.8 799.9 1862.8 795.1C1864.8 790.3 1867.6 783.5 1869.6 778.1C1871.6 772.7 1873.0 766.6 1874.7 762.8C1876.4 759.0 1878.2 757.6 1879.8 755.1C1881.3 752.6 1882.7 751.9 1884.0 747.5C1885.3 743.1 1886.3 733.6 1887.4 728.8C1888.5 724.0 1889.7 720.7 1890.8 718.6C1891.9 716.5 1893.1 715.7 1894.2 716.0C1895.3 716.3 1897.0 719.6 1897.5 720.3L1897.5 1258.5" fill="none" stroke="#ff00ff" stroke-width="3" stroke-linejoin="round" shape-rendering="crispEdges"/>
<path d="M170.0 782.4C201.6 779.8 305.8 770.4 359.6 767.0C413.4 763.6 460.9 763.0 492.6 762.3C524.3 761.5 522.8 762.2 550.0 762.5C577.2 762.8 630.6 764.2 655.8 764.0C681.0 763.8 682.7 761.5 701.2 761.5C719.7 761.5 750.2 763.0 766.7 764.0C783.2 765.0 791.3 766.3 800.0 767.4C808.7 768.5 812.7 769.5 819.1 770.6C825.5 771.7 831.8 772.4 838.2 773.8C844.6 775.2 851.0 777.0 857.4 778.9C863.8 780.8 871.7 783.7 876.5 785.1C881.3 786.5 882.0 787.4 886.0 787.5C890.0 787.6 895.6 786.5 900.4 786.0C905.2 785.5 910.7 784.6 914.7 784.3C918.7 784.0 920.3 783.8 924.3 784.3C928.3 784.8 933.0 785.8 938.6 787.0C944.2 788.2 951.3 789.6 957.7 791.8C964.1 793.9 969.9 797.6 976.9 799.9C983.9 802.2 992.0 803.0 1000.0 805.6C1008.0 808.2 1016.8 811.9 1025.2 815.2C1033.6 818.5 1042.0 822.1 1050.4 825.3C1058.8 828.4 1067.2 830.1 1075.6 834.1C1084.0 838.1 1092.4 844.4 1100.8 849.2C1109.2 854.0 1117.6 857.6 1126.0 863.1C1134.4 868.6 1142.7 874.6 1151.1 882.0C1159.5 889.4 1170.0 900.5 1176.3 907.2C1182.6 913.9 1184.7 916.6 1188.9 922.3C1193.1 928.0 1197.3 935.3 1201.5 941.2C1205.7 947.1 1209.9 952.3 1214.1 957.5C1218.3 962.7 1222.4 967.1 1226.7 972.6C1231.0 978.1 1235.1 984.5 1240.0 990.4C1244.9 996.3 1250.4 1003.2 1256.1 1008.2C1261.8 1013.2 1268.1 1016.3 1274.4 1020.2C1280.7 1024.1 1288.2 1027.5 1293.9 1031.7C1299.6 1035.9 1303.5 1040.2 1308.8 1045.5C1314.1 1050.8 1321.2 1059.7 1326.0 1063.8C1330.8 1067.9 1332.7 1069.1 1337.5 1070.2C1342.3 1071.3 1349.0 1071.3 1354.7 1070.2C1360.4 1069.1 1366.2 1066.6 1371.9 1063.8C1377.6 1061.0 1382.8 1057.9 1389.1 1053.5C1395.4 1049.1 1403.3 1041.1 1409.8 1037.5C1416.3 1033.9 1423.1 1033.1 1428.1 1031.7C1433.1 1030.3 1435.9 1029.7 1440.0 1028.9C1444.1 1028.1 1448.4 1028.0 1452.6 1027.0C1456.8 1026.0 1461.4 1025.0 1465.2 1023.2C1469.0 1021.4 1472.2 1018.9 1475.3 1016.3C1478.4 1013.7 1481.6 1010.4 1484.1 1007.5C1486.6 1004.6 1488.3 1001.9 1490.4 998.7C1492.5 995.6 1494.6 992.2 1496.7 988.6C1498.8 985.0 1500.9 981.3 1503.0 977.3C1505.1 973.3 1507.2 968.7 1509.3 964.7C1511.4 960.7 1513.5 957.8 1515.6 953.4C1517.7 949.0 1519.8 943.2 1521.9 938.2C1524.0 933.2 1526.1 927.9 1528.2 923.1C1530.3 918.3 1532.6 914.3 1534.5 909.3C1536.4 904.3 1537.8 897.7 1539.5 892.9C1541.2 888.1 1542.6 884.3 1544.5 880.3C1546.4 876.3 1548.9 873.0 1550.8 869.0C1552.7 865.0 1554.2 859.1 1555.9 856.4C1557.6 853.7 1559.0 853.5 1560.9 852.6C1562.8 851.8 1565.1 852.8 1567.2 851.3C1569.3 849.8 1571.6 845.5 1573.5 843.8C1575.4 842.1 1576.8 841.0 1578.6 841.0C1580.4 841.0 1582.4 843.8 1584.5 843.5C1586.6 843.2 1589.0 840.6 1591.3 839.3C1593.6 838.0 1596.6 836.9 1598.1 835.9C1599.6 834.9 1599.8 834.2 1600.5 833.0C1601.2 831.8 1601.0 831.9 1602.1 828.6C1603.2 825.3 1605.2 817.8 1607.2 813.3C1609.2 808.8 1611.7 804.5 1614.0 801.4C1616.3 798.3 1618.8 796.6 1620.8 794.6C1622.8 792.6 1624.2 791.8 1625.9 789.5C1627.6 787.2 1629.0 783.8 1631.0 781.0C1633.0 778.2 1635.8 774.5 1637.8 772.5C1639.8 770.5 1641.2 771.2 1642.9 769.1C1644.6 767.0 1646.6 761.6 1648.0 759.7C1649.4 757.9 1650.1 758.1 1651.4 758.0C1652.7 757.9 1654.2 759.6 1655.6 758.9C1657.0 758.2 1658.3 756.5 1659.9 753.8C1661.5 751.1 1663.3 745.8 1665.0 742.7C1666.7 739.6 1668.3 736.9 1670.1 735.1C1671.9 733.3 1674.3 733.7 1676.0 731.7C1677.7 729.7 1679.0 726.0 1680.3 723.2C1681.6 720.4 1682.4 717.0 1683.7 714.7C1685.0 712.4 1686.5 709.8 1687.9 709.6C1689.3 709.5 1690.6 711.5 1692.2 713.8C1693.8 716.1 1695.8 720.2 1697.3 723.2C1698.8 726.2 1700.2 728.9 1701.5 731.7C1702.8 734.5 1703.9 737.4 1704.9 740.2C1705.9 743.0 1706.5 746.4 1707.5 748.7C1708.5 751.0 1709.5 752.5 1710.9 753.8C1712.3 755.1 1714.5 755.4 1716.0 756.3C1717.5 757.2 1718.2 757.2 1720.0 759.4C1721.8 761.6 1724.8 766.8 1726.8 769.6C1728.8 772.4 1730.2 773.0 1731.9 776.4C1733.6 779.8 1735.6 786.3 1737.0 790.0C1738.4 793.7 1739.0 796.0 1740.4 798.5C1741.8 801.0 1743.5 801.6 1745.5 805.3C1747.5 809.0 1750.0 816.9 1752.3 820.6C1754.6 824.3 1756.8 827.7 1759.1 827.4C1761.4 827.1 1763.8 821.2 1765.9 818.9C1768.0 816.6 1769.7 813.8 1771.8 813.8C1773.9 813.8 1776.8 816.3 1778.6 818.9C1780.4 821.5 1781.5 826.1 1782.9 829.1C1784.3 832.1 1785.7 835.6 1787.1 836.7C1788.5 837.8 1789.8 836.5 1791.4 835.9C1793.0 835.3 1794.8 832.3 1796.5 833.3C1798.2 834.3 1799.6 840.7 1801.6 841.8C1803.6 842.9 1806.1 839.7 1808.4 840.1C1810.7 840.5 1813.2 841.6 1815.2 844.4C1817.2 847.2 1818.6 852.6 1820.3 857.1C1822.0 861.6 1823.9 866.9 1825.4 871.6C1827.0 876.3 1827.5 878.1 1829.6 885.2C1831.7 892.3 1834.8 907.7 1838.0 914.4C1841.2 921.1 1845.7 925.4 1849.0 925.4C1852.3 925.4 1855.8 919.0 1857.8 914.4C1859.8 909.8 1859.7 904.6 1861.1 898.0C1862.5 891.4 1864.5 881.7 1866.2 875.0C1867.9 868.3 1869.6 862.5 1871.3 858.0C1873.0 853.5 1874.6 849.8 1876.4 847.8C1878.2 845.8 1880.9 849.8 1882.3 846.1C1883.7 842.4 1883.9 832.8 1884.9 825.7C1885.9 818.6 1887.2 809.3 1888.3 803.6C1889.4 797.9 1890.6 794.0 1891.7 791.7C1892.8 789.4 1894.1 790.0 1895.1 790.0C1896.1 790.0 1897.1 791.7 1897.5 792.0L1897.5 1258.5" fill="none" stroke="#808000" stroke-width="3" stroke-linejoin="round" shape-rendering="crispEdges"/>
<g fill="#000" shape-rendering="crispEdges"><rect x="887" y="120" width="3" height="756.4"/><rect x="1341" y="366" width="3" height="783.8"/><rect x="1428" y="312.3" width="3" height="817.2"/><rect x="1564" y="177.8" width="3" height="727.8"/><rect x="1648" y="80" width="3" height="764"/><rect x="1703" y="77" width="3" height="914.3"/><rect x="1759" y="496.5" width="3" height="429.5"/><rect x="1838" y="174.3" width="3" height="810.7"/></g>
<g filter="url(#bin)"><text transform="translate(167.0 1396.2)" font-size="76" text-anchor="middle">2500</text>
<text transform="translate(579.0 1396.2)" font-size="76" text-anchor="middle">2000</text>
<text transform="translate(991.0 1396.2)" font-size="76" text-anchor="middle">1500</text>
<text transform="translate(1403.0 1396.2)" font-size="76" text-anchor="middle">1000</text>
<text transform="translate(1815.0 1396.2)" font-size="76" text-anchor="middle">500</text>
<text transform="translate(845.6 927.5) scale(0.920 1)" font-size="74">1613</text>
<text transform="translate(1595.5 908.5) scale(0.950 1)" font-size="74">695</text>
<text transform="translate(1717.2 979.0) scale(0.950 1)" font-size="74">567</text>
<text transform="translate(1662.6 1039.5) scale(0.950 1)" font-size="74">630</text>
<text transform="translate(1800.8 1042.5) scale(0.950 1)" font-size="74">457</text>
<text transform="translate(1369.0 356.7) rotate(-90) scale(0.920 1)" font-size="74">1073</text>
<text transform="translate(1458.0 292.9) rotate(-90) scale(0.950 1)" font-size="74">965</text>
<text transform="translate(1585.7 169.7) rotate(-90) scale(0.950 1)" font-size="74">800</text>
<text transform="translate(1946.0 230.0)" font-size="71">M1</text>
<text transform="translate(1954.0 410.0)" font-size="71">M2</text>
<text transform="translate(1949.4 511.0)" font-size="71">M3</text>
<text transform="translate(1949.4 614.0)" font-size="71">M4</text>
<text transform="translate(1953.2 731.0)" font-size="71">M5</text>
<text transform="translate(1953.2 813.0)" font-size="71">M6</text>
<text transform="translate(599.6 1518.0)" font-size="103.5">Wavenumber/cm</text>
<text transform="translate(1305.0 1477.5)" font-size="103">-</text>
<text transform="translate(1338.0 1475.0)" font-size="103">1</text>
<text transform="translate(128.0 957.5) rotate(-90)" font-size="102.2">Transmittance/%</text></g>
</svg>
</body></html>
